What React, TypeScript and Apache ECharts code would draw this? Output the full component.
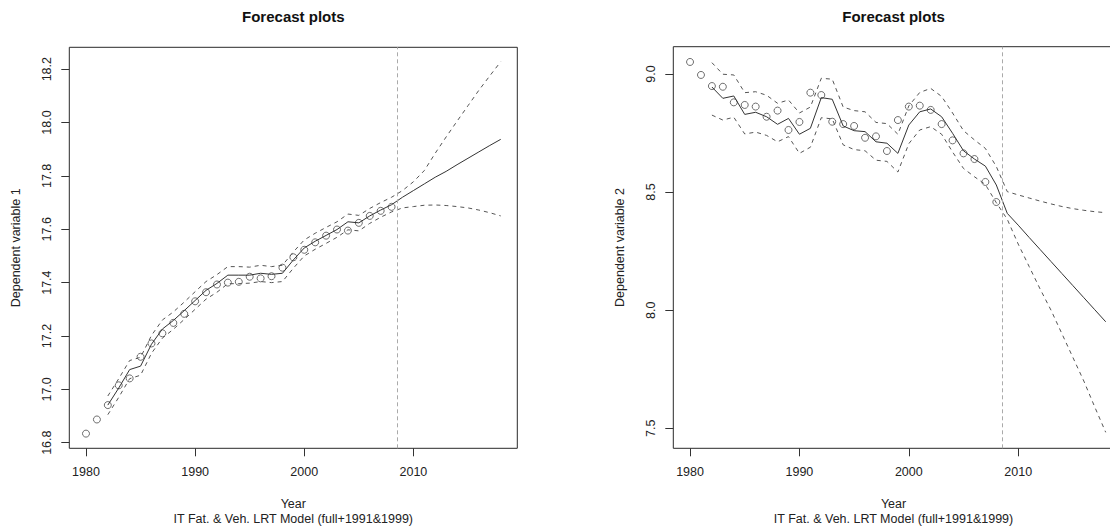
import { useEffect, useRef } from "react";
import * as echarts from "echarts";

// Years covered by the observations (1980-2008) and the forecast horizon (to 2018)
const years = [
  1980, 1981, 1982, 1983, 1984, 1985, 1986, 1987, 1988, 1989,
  1990, 1991, 1992, 1993, 1994, 1995, 1996, 1997, 1998, 1999,
  2000, 2001, 2002, 2003, 2004, 2005, 2006, 2007, 2008, 2009,
  2010, 2011, 2012, 2013, 2014, 2015, 2016, 2017, 2018,
];
const fitStart = 2; // fitted values begin in 1982
const forecastOrigin = 2008.5;

const xTicks = [1980, 1990, 2000, 2010];
const yTicks1 = [16.8, 17.0, 17.2, 17.4, 17.6, 17.8, 18.0, 18.2];
const yTicks2 = [7.5, 8.0, 8.5, 9.0];

// Dependent variable 1: observed, fitted/forecast and its bounds
const obs1 = [
  16.834, 16.887, 16.941, 17.015, 17.041, 17.122, 17.172, 17.21, 17.249, 17.283,
  17.33, 17.364, 17.393, 17.4, 17.403, 17.422, 17.416, 17.424, 17.456, 17.495,
  17.523, 17.551, 17.576, 17.599, 17.595, 17.624, 17.65, 17.669, 17.684,
];
const fit1 = [
  16.941, 17.005, 17.074, 17.087, 17.169, 17.226, 17.258, 17.295, 17.333, 17.371,
  17.397, 17.428, 17.428, 17.428, 17.435, 17.431, 17.435, 17.485, 17.53, 17.555,
  17.577, 17.599, 17.628, 17.624, 17.65, 17.672, 17.692, 17.72, 17.745, 17.77,
  17.795, 17.817, 17.842, 17.866, 17.89, 17.914, 17.937,
];
const up1 = [
  16.975, 17.04, 17.108, 17.12, 17.202, 17.26, 17.29, 17.327, 17.366, 17.404,
  17.43, 17.46, 17.46, 17.458, 17.465, 17.46, 17.465, 17.515, 17.56, 17.585,
  17.607, 17.628, 17.657, 17.652, 17.678, 17.7, 17.72, 17.745, 17.778, 17.82,
  17.885, 17.946, 18.005, 18.063, 18.121, 18.175, 18.228,
];
const lo1 = [
  16.905, 16.97, 17.04, 17.053, 17.135, 17.192, 17.225, 17.262, 17.3, 17.338,
  17.364, 17.396, 17.396, 17.398, 17.404, 17.4, 17.404, 17.454, 17.5, 17.525,
  17.547, 17.57, 17.598, 17.594, 17.622, 17.645, 17.665, 17.68, 17.685, 17.69,
  17.691, 17.689, 17.685, 17.68, 17.672, 17.662, 17.65,
];

// Dependent variable 2
const obs2 = [
  9.051, 8.996, 8.949, 8.946, 8.88, 8.869, 8.862, 8.819, 8.845, 8.763,
  8.797, 8.921, 8.911, 8.798, 8.788, 8.78, 8.73, 8.736, 8.674, 8.805,
  8.862, 8.866, 8.848, 8.788, 8.719, 8.664, 8.64, 8.543, 8.458,
];
const fit2 = [
  8.945, 8.897, 8.907, 8.829, 8.838, 8.819, 8.787, 8.812, 8.745, 8.77,
  8.9, 8.893, 8.78, 8.76, 8.756, 8.713, 8.707, 8.664, 8.784, 8.84,
  8.852, 8.819, 8.749, 8.675, 8.64, 8.61, 8.53, 8.41, 8.36, 8.308,
  8.257, 8.206, 8.155, 8.104, 8.053, 8.002, 7.951,
];
const up2 = [
  9.048, 8.999, 8.996, 8.921, 8.925, 8.91, 8.876, 8.89, 8.835, 8.86,
  8.982, 8.978, 8.86, 8.845, 8.84, 8.795, 8.79, 8.745, 8.865, 8.922,
  8.939, 8.905, 8.835, 8.76, 8.721, 8.685, 8.608, 8.502, 8.488, 8.475,
  8.462, 8.45, 8.439, 8.43, 8.423, 8.417, 8.413,
];
const lo2 = [
  8.826, 8.805, 8.817, 8.746, 8.754, 8.74, 8.713, 8.735, 8.664, 8.69,
  8.815, 8.81, 8.7, 8.68, 8.675, 8.635, 8.63, 8.585, 8.705, 8.763,
  8.777, 8.745, 8.67, 8.6, 8.565, 8.532, 8.455, 8.385, 8.28, 8.185,
  8.09, 8.0, 7.9, 7.8, 7.7, 7.59, 7.483,
];

const FONT = '"Liberation Sans", Arial, Helvetica, sans-serif';

const toPairs = (vals: number[], offset: number) =>
  vals.map((v, i) => [years[offset + i], v]);

type Panel = {
  grid: { left: number; top: number; width: number; height: number };
  xMin: number;
  xMax: number;
  yMin: number;
  yMax: number;
  yTicks: number[];
  obs: number[];
  fit: number[];
  up: number[];
  lo: number[];
  yName: string;
};

const panels: Panel[] = [
  {
    grid: { left: 69.3, top: 47.3, width: 448, height: 401 },
    xMin: 1978.47,
    xMax: 2019.52,
    yMin: 16.779,
    yMax: 18.282,
    yTicks: yTicks1,
    obs: obs1,
    fit: fit1,
    up: up1,
    lo: lo1,
    yName: "Dependent variable 1",
  },
  {
    grid: { left: 673.3, top: 46.7, width: 440.4, height: 401.6 },
    xMin: 1978.47,
    xMax: 2018.73,
    yMin: 7.4153,
    yMax: 9.1156,
    yTicks: yTicks2,
    obs: obs2,
    fit: fit2,
    up: up2,
    lo: lo2,
    yName: "Dependent variable 2",
  },
];

function buildOption() {
  const grids: any[] = [];
  const xAxes: any[] = [];
  const yAxes: any[] = [];
  const series: any[] = [];
  const graphics: any[] = [];

  panels.forEach((p, i) => {
    grids.push({
      ...p.grid,
      show: true,
      borderColor: "#2a2a2a",
      borderWidth: 1,
      backgroundColor: "transparent",
      containLabel: false,
      outerBoundsMode: "none",
    });
    xAxes.push({
      type: "value",
      gridIndex: i,
      min: p.xMin,
      max: p.xMax,
      axisLine: { show: false },
      splitLine: { show: false },
      axisTick: {
        show: true,
        length: 8,
        customValues: xTicks,
        lineStyle: { color: "#333", width: 1 },
      },
      axisLabel: {
        customValues: xTicks,
        margin: 17,
        fontSize: 12.5,
        fontFamily: FONT,
        color: "#222",
        formatter: (v: number) => String(v),
      },
    });
    yAxes.push({
      type: "value",
      gridIndex: i,
      min: p.yMin,
      max: p.yMax,
      axisLine: { show: false },
      splitLine: { show: false },
      axisTick: {
        show: true,
        length: 8,
        customValues: p.yTicks,
        lineStyle: { color: "#333", width: 1 },
      },
      axisLabel: {
        customValues: p.yTicks,
        rotate: 90,
        margin: 16,
        fontSize: 12.5,
        fontFamily: FONT,
        color: "#222",
        formatter: (v: number) => v.toFixed(1),
      },
    });

    const axisRef = { xAxisIndex: i, yAxisIndex: i };
    series.push({
      type: "line",
      ...axisRef,
      data: toPairs(p.up, fitStart),
      showSymbol: false,
      symbol: "none",
      lineStyle: { color: "#555", width: 1, type: [4, 4] },
      silent: true,
    });
    series.push({
      type: "line",
      ...axisRef,
      data: toPairs(p.lo, fitStart),
      showSymbol: false,
      symbol: "none",
      lineStyle: { color: "#555", width: 1, type: [4, 4] },
      silent: true,
    });
    series.push({
      type: "line",
      ...axisRef,
      data: toPairs(p.fit, fitStart),
      showSymbol: false,
      symbol: "none",
      lineStyle: { color: "#333", width: 1 },
      silent: true,
      markLine: {
        silent: true,
        symbol: ["none", "none"],
        label: { show: false },
        lineStyle: { color: "#aaa", width: 1, type: [4, 3] },
        data: [{ xAxis: forecastOrigin }],
      },
    });
    series.push({
      type: "scatter",
      ...axisRef,
      data: toPairs(p.obs, 0),
      symbol: "circle",
      symbolSize: 7,
      itemStyle: { color: "rgba(0,0,0,0)", borderColor: "#4a4a4a", borderWidth: 1 },
      silent: true,
    });

    const cx = p.grid.left + (i === 0 ? p.grid.width / 2 : 220.2);
    const cy = p.grid.top + p.grid.height / 2;
    graphics.push(
      {
        type: "text",
        x: cx,
        y: 16,
        style: {
          text: "Forecast plots",
          font: `bold 15px ${FONT}`,
          fill: "#111",
          textAlign: "center",
          textVerticalAlign: "middle",
        },
      },
      {
        type: "text",
        x: cx,
        y: 503.5,
        style: {
          text: "Year",
          font: `12.5px ${FONT}`,
          fill: "#222",
          textAlign: "center",
          textVerticalAlign: "middle",
        },
      },
      {
        type: "text",
        x: cx,
        y: 518.5,
        style: {
          text: "IT Fat. & Veh. LRT Model (full+1991&1999)",
          font: `12.5px ${FONT}`,
          fill: "#222",
          textAlign: "center",
          textVerticalAlign: "middle",
        },
      },
      {
        type: "text",
        x: p.grid.left - 53.3,
        y: cy,
        rotation: Math.PI / 2,
        style: {
          text: p.yName,
          font: `12.5px ${FONT}`,
          fill: "#222",
          textAlign: "center",
          textVerticalAlign: "middle",
        },
      }
    );
  });

  return {
    animation: false,
    backgroundColor: "#fff",
    textStyle: { fontFamily: FONT },
    grid: grids,
    xAxis: xAxes,
    yAxis: yAxes,
    series,
    graphic: graphics,
  };
}

export default function App() {
  const ref = useRef<HTMLDivElement>(null);

  useEffect(() => {
    if (!ref.current) return;
    const chart = echarts.init(ref.current, undefined, { renderer: "svg" });
    chart.setOption(buildOption());
    return () => chart.dispose();
  }, []);

  return (
    <div
      ref={ref}
      style={{
        position: "fixed",
        left: 0,
        top: 0,
        width: 1110,
        height: 529,
        background: "#fff",
      }}
    />
  );
}
